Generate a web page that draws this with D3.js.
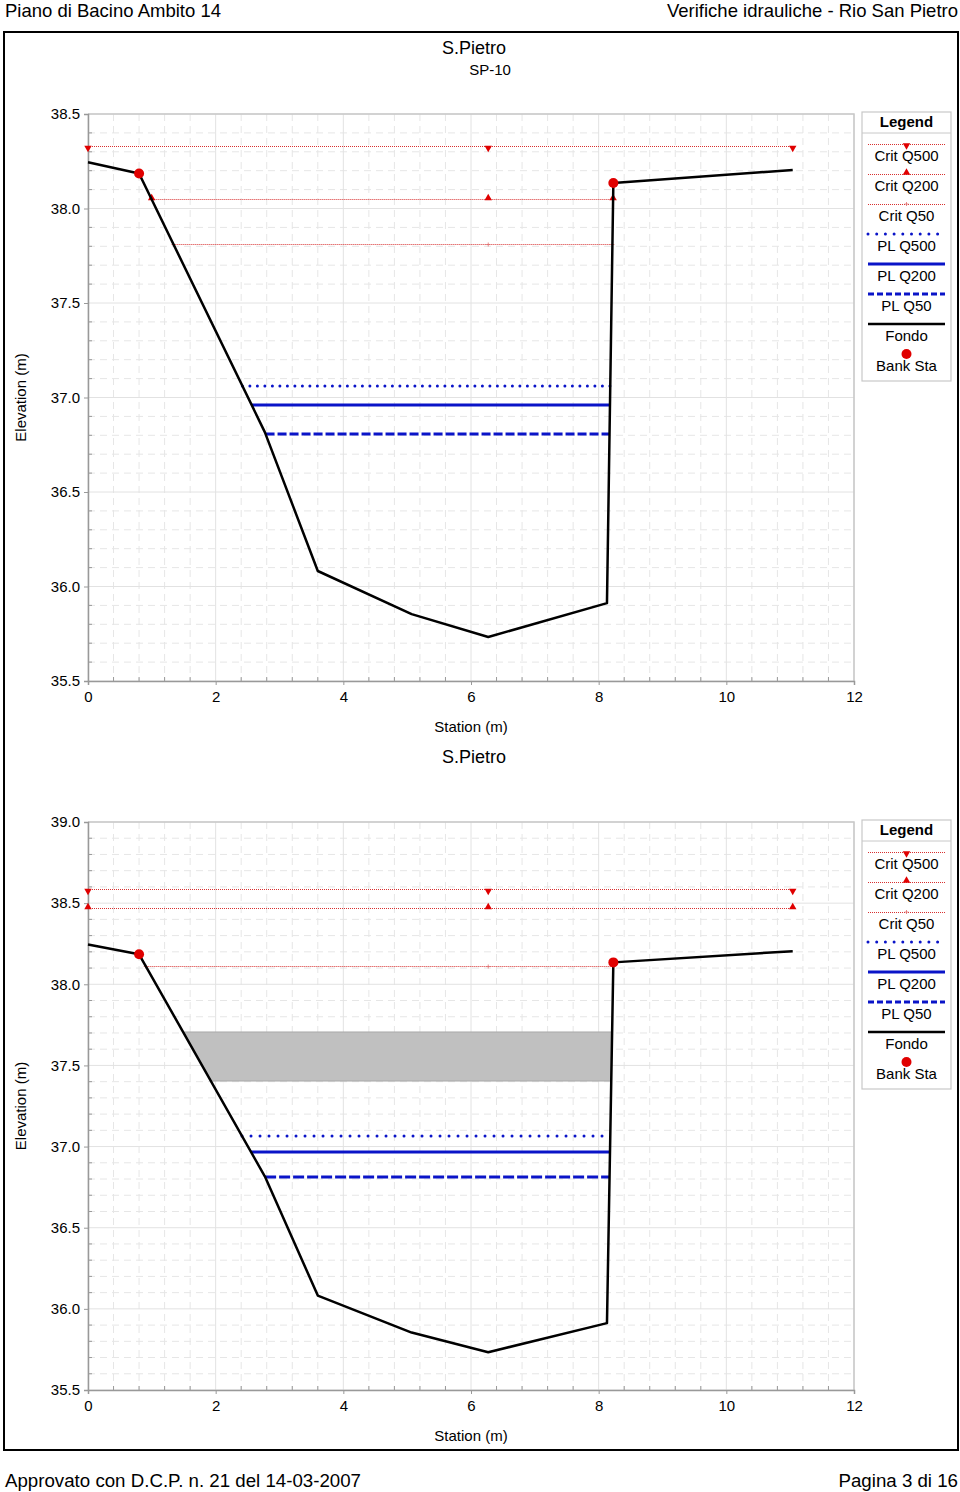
<!DOCTYPE html>
<html><head><meta charset="utf-8">
<script src="https://cdn.jsdelivr.net/npm/d3@7"></script>
<style>
html,body{margin:0;padding:0;background:#fff;}
svg{display:block;font-family:"Liberation Sans",Arial,sans-serif;}
</style></head>
<body>
<svg id="c" width="960" height="1492"></svg>
<script>
// ---------------- DATA ----------------
const headerLeft = "Piano di Bacino Ambito 14";
const headerRight = "Verifiche idrauliche - Rio San Pietro";
const footerLeft = "Approvato con D.C.P. n. 21 del 14-03-2007";
const footerRight = "Pagina 3 di 16";

// Cross-section ground (Fondo)
const stations = [0, 0.8, 2.77, 3.6, 5.07, 6.27, 8.13, 8.23, 11.04];
const fondo    = [38.245, 38.185, 36.817, 36.082, 35.854, 35.733, 35.912, 38.135, 38.204];
const bankStations = [0.8, 8.23];
const midStation = 6.27;

const profiles = ["Q500", "Q200", "Q50"];
// Chart 1 (SP-10)
const crit1 = [38.331, 38.048, 37.812];
const pl1   = [37.061, 36.960, 36.807];
// Chart 2
const crit2 = [38.587, 38.467, 38.113];
const pl2   = [37.065, 36.967, 36.813];
const deck2 = [37.404, 37.706];   // grey obstruction: low / high elevation

const xTicks = [0, 2, 4, 6, 8, 10, 12];
const yTicks1 = [35.5, 36.0, 36.5, 37.0, 37.5, 38.0, 38.5];
const yTicks2 = [35.5, 36.0, 36.5, 37.0, 37.5, 38.0, 38.5, 39.0];

const legendItems = ["Crit Q500", "Crit Q200", "Crit Q50", "PL Q500", "PL Q200", "PL Q50", "Fondo", "Bank Sta"];

// ---------------- HELPERS ----------------
const svg = d3.select("#c");
const ground = stations.map((s, i) => [s, fondo[i]]);
const thalweg = fondo.indexOf(d3.min(fondo));

function extent(w) {
  let left = stations[0];
  for (let i = thalweg; i > 0; i--) {
    const [s0, e0] = ground[i - 1], [s1, e1] = ground[i];
    if (e0 >= w) { left = s0 + (w - e0) / (e1 - e0) * (s1 - s0); break; }
  }
  let right = stations[stations.length - 1];
  for (let i = thalweg; i < ground.length - 1; i++) {
    const [s0, e0] = ground[i], [s1, e1] = ground[i + 1];
    if (e1 >= w) { right = s0 + (w - e0) / (e1 - e0) * (s1 - s0); break; }
  }
  return [left, right];
}

const RED = "#e00000";
const BLUE = "#0a14c8";
const CRIT_STROKE = "#d83030";
const px = v => Math.round(v) + 0.5;

function tri(g, x, y, down) {
  const s = d3.symbol().type(d3.symbolTriangle).size(24);
  g.append("path").attr("d", s())
    .attr("transform", `translate(${x},${y + (down ? 1.5 : -1.5)}) rotate(${down ? 180 : 0})`)
    .attr("fill", RED);
}
function plus(g, x, y) {
  g.append("path").attr("d", `M${x-2},${y}H${x+2}M${x},${y-2}V${y+2}`)
    .attr("stroke", "#e07070").attr("stroke-width", 0.8).attr("fill", "none");
}

function drawChart(cfg) {
  const g = svg.append("g");
  const x = d3.scaleLinear().domain([0, 12]).range([88, 854]);
  const y = d3.scaleLinear().domain(cfg.yDomain).range([cfg.bottom, cfg.top]);

  g.append("text").attr("x", 474).attr("y", cfg.titleY).attr("text-anchor", "middle")
    .attr("font-size", 18).text("S.Pietro");
  if (cfg.subtitle) g.append("text").attr("x", 490).attr("y", cfg.titleY + 21)
    .attr("text-anchor", "middle").attr("font-size", 15).text(cfg.subtitle);

  // grid
  const grid = g.append("g");
  const xMinor = d3.range(0, 12.001, 0.4).filter(v => Math.abs(v / 2 - Math.round(v / 2)) > 1e-6);
  const yMinor = d3.range(cfg.yDomain[0], cfg.yDomain[1] + 0.001, 0.1)
    .filter(v => Math.abs(v / 0.5 - Math.round(v / 0.5)) > 1e-4);
  grid.selectAll(".xm").data(xMinor).join("line")
    .attr("x1", d => x(d)).attr("x2", d => x(d)).attr("y1", cfg.top).attr("y2", cfg.bottom)
    .attr("stroke", "#e6e6e6").attr("stroke-dasharray", "7,5");
  grid.selectAll(".ym").data(yMinor).join("line")
    .attr("y1", d => y(d)).attr("y2", d => y(d)).attr("x1", 88).attr("x2", 854)
    .attr("stroke", "#e6e6e6").attr("stroke-dasharray", "7,5");
  grid.selectAll(".xM").data(xTicks).join("line")
    .attr("x1", d => x(d)).attr("x2", d => x(d)).attr("y1", cfg.top).attr("y2", cfg.bottom)
    .attr("stroke", "#e2e2e2");
  grid.selectAll(".yM").data(cfg.yTicks).join("line")
    .attr("y1", d => y(d)).attr("y2", d => y(d)).attr("x1", 88).attr("x2", 854)
    .attr("stroke", "#e2e2e2");

  g.append("path").attr("d", `M88,${cfg.top}H854V${cfg.bottom}`)
    .attr("fill", "none").attr("stroke", "#c8c8c8").attr("stroke-width", 1.5);

  // axes
  const xAxis = d3.axisBottom(x).tickValues(xTicks).tickFormat(d3.format("d")).tickSize(4).tickPadding(6);
  const ax = g.append("g").attr("transform", `translate(0,${cfg.bottom})`).call(xAxis);
  ax.select(".domain").attr("stroke", "#999").attr("stroke-width", 1.5);
  ax.selectAll(".tick line").attr("stroke", "#999");
  ax.selectAll(".tick text").attr("font-size", 15).attr("font-family", "Liberation Sans, Arial, sans-serif").attr("fill", "#000");
  ax.selectAll(".mt").data(xMinor).join("line")
    .attr("x1", d => x(d)).attr("x2", d => x(d)).attr("y1", 0).attr("y2", -4).attr("stroke", "#999");

  const yAxis = d3.axisLeft(y).tickValues(cfg.yTicks).tickFormat(d3.format(".1f")).tickSize(4).tickPadding(4);
  const ay = g.append("g").attr("transform", "translate(88,0)").call(yAxis);
  ay.select(".domain").attr("stroke", "#999").attr("stroke-width", 1.5);
  ay.selectAll(".tick line").attr("stroke", "#999");
  ay.selectAll(".tick text").attr("font-size", 15).attr("font-family", "Liberation Sans, Arial, sans-serif").attr("fill", "#000");
  ay.selectAll(".mt").data(yMinor).join("line")
    .attr("y1", d => y(d)).attr("y2", d => y(d)).attr("x1", 0).attr("x2", 4).attr("stroke", "#999");

  g.append("text").attr("x", 471).attr("y", cfg.bottom + 51).attr("text-anchor", "middle")
    .attr("font-size", 15).text("Station (m)");
  g.append("text").attr("transform", `translate(26,${(cfg.top + cfg.bottom) / 2}) rotate(-90)`)
    .attr("text-anchor", "middle").attr("font-size", 15).text("Elevation (m)");

  if (cfg.deck) {
    const [lo, hi] = cfg.deck;
    const [l1, r1] = extent(lo), [l2, r2] = extent(hi);
    g.append("path").attr("d", `M${x(l1)},${y(lo)}L${x(l2)},${y(hi)}L${x(r2)},${y(hi)}L${x(r1)},${y(lo)}Z`)
      .attr("fill", "#c0c0c0").attr("stroke", "#a8a8a8").attr("stroke-width", 1);
  }

  // crit lines
  cfg.crit.forEach((w, i) => {
    const [l, r] = extent(w);
    const yy = px(y(w));
    g.append("line").attr("x1", x(l)).attr("x2", x(r)).attr("y1", yy).attr("y2", yy)
      .attr("stroke", CRIT_STROKE).attr("stroke-width", 1).attr("stroke-dasharray", "1,1");
    [l, midStation, r].forEach(s => {
      if (i === 0) tri(g, x(s), yy, true);
      else if (i === 1) tri(g, x(s), yy, false);
      else plus(g, x(s), yy);
    });
  });

  // PL lines
  const plStyles = [
    { dash: `0,${cfg.dot}`, cap: "round" },
    { dash: null, cap: "butt" },
    { dash: cfg.dash, cap: "butt" }
  ];
  cfg.pl.forEach((w, i) => {
    const [l, r] = extent(w);
    g.append("line").attr("x1", x(l)).attr("x2", x(r)).attr("y1", y(w)).attr("y2", y(w))
      .attr("stroke", BLUE).attr("stroke-width", 3)
      .attr("stroke-linecap", plStyles[i].cap)
      .attr("stroke-dasharray", plStyles[i].dash);
  });

  g.append("path").datum(ground)
    .attr("d", d3.line().x(d => x(d[0])).y(d => y(d[1])))
    .attr("fill", "none").attr("stroke", "#000").attr("stroke-width", 2.5).attr("stroke-linejoin", "round");

  bankStations.forEach(s => {
    const i = stations.indexOf(s);
    g.append("circle").attr("cx", x(s)).attr("cy", y(fondo[i])).attr("r", 5).attr("fill", RED);
  });

  // legend
  const L = g.append("g").attr("transform", `translate(862,${cfg.top - 2})`);
  L.append("rect").attr("x", 0).attr("y", 0).attr("width", 89).attr("height", 269)
    .attr("fill", "#fff").attr("stroke", "#c8c8c8").attr("stroke-width", 1.2);
  L.append("text").attr("x", 44.5).attr("y", 15).attr("text-anchor", "middle")
    .attr("font-size", 15).attr("font-weight", "bold").text("Legend");
  L.append("line").attr("x1", 0).attr("x2", 89).attr("y1", 21).attr("y2", 21).attr("stroke", "#c8c8c8");
  legendItems.forEach((name, i) => {
    const ly = 32 + i * 30;
    if (i < 3) {
      L.append("line").attr("x1", 6).attr("x2", 83).attr("y1", ly + 0.5).attr("y2", ly + 0.5)
        .attr("stroke", CRIT_STROKE).attr("stroke-width", 1).attr("stroke-dasharray", "1,1");
      if (i === 0) tri(L, 44.5, ly, true);
      else if (i === 1) tri(L, 44.5, ly, false);
      else plus(L, 44.5, ly);
    } else if (i < 6) {
      const st = [{ dash: "0,8.7", cap: "round" }, { dash: null, cap: "butt" }, { dash: "6,3", cap: "butt" }][i - 3];
      L.append("line").attr("x1", 6).attr("x2", 83).attr("y1", ly).attr("y2", ly)
        .attr("stroke", BLUE).attr("stroke-width", 3).attr("stroke-linecap", st.cap)
        .attr("stroke-dasharray", st.dash);
    } else if (i === 6) {
      L.append("line").attr("x1", 6).attr("x2", 83).attr("y1", ly).attr("y2", ly)
        .attr("stroke", "#000").attr("stroke-width", 2.5);
    } else {
      L.append("circle").attr("cx", 44.5).attr("cy", ly).attr("r", 5).attr("fill", RED);
    }
    L.append("text").attr("x", 44.5).attr("y", ly + 17).attr("text-anchor", "middle")
      .attr("font-size", 15).text(name);
  });
}

// ---------------- PAGE ----------------
svg.append("text").attr("x", 5).attr("y", 17).attr("font-size", 18.5).text(headerLeft);
svg.append("text").attr("x", 958).attr("y", 17).attr("font-size", 18.5).attr("text-anchor", "end").text(headerRight);
svg.append("rect").attr("x", 4).attr("y", 32).attr("width", 954).attr("height", 1418)
  .attr("fill", "none").attr("stroke", "#000").attr("stroke-width", 2);
svg.append("text").attr("x", 5).attr("y", 1487).attr("font-size", 18.7).text(footerLeft);
svg.append("text").attr("x", 958).attr("y", 1487).attr("font-size", 18.7).attr("text-anchor", "end").text(footerRight);

drawChart({ top: 114, bottom: 681, yDomain: [35.5, 38.5], yTicks: yTicks1, titleY: 54, subtitle: "SP-10",
  crit: crit1, pl: pl1, dot: 7.5, dash: "9,3" });
drawChart({ top: 822, bottom: 1390, yDomain: [35.5, 39.0], yTicks: yTicks2, titleY: 763, subtitle: null,
  crit: crit2, pl: pl2, deck: deck2, dot: 9, dash: "11,3" });
</script>
</body></html>
